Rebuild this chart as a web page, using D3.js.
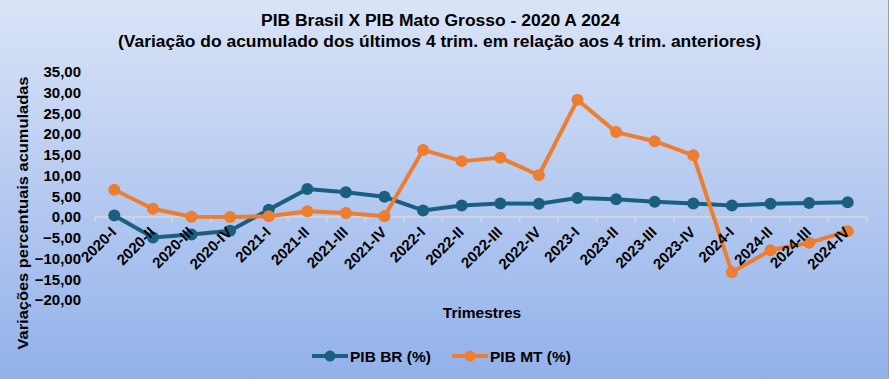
<!DOCTYPE html>
<html>
<head>
<meta charset="utf-8">
<script src="https://cdn.jsdelivr.net/npm/d3@7"></script>
<style>
html,body{margin:0;padding:0;}
body{width:889px;height:379px;overflow:hidden;}
text{font-family:"Liberation Sans",Arial,sans-serif;font-weight:bold;}
</style>
</head>
<body>
<svg id="chart" width="889" height="379"></svg>
<script>
const categories = ["2020-I","2020-II","2020-III","2020-IV","2021-I","2021-II","2021-III","2021-IV","2022-I","2022-II","2022-III","2022-IV","2023-I","2023-II","2023-III","2023-IV","2024-I","2024-II","2024-III","2024-IV"];
const pibBR = [0.4,-4.9,-4.2,-3.3,1.8,6.8,6.0,4.9,1.6,2.8,3.3,3.2,4.6,4.3,3.7,3.3,2.8,3.2,3.4,3.6];
const pibMT = [6.6,2.0,0.1,0.0,0.2,1.4,1.0,0.2,16.2,13.5,14.3,10.1,28.3,20.5,18.3,14.9,-13.3,-8.0,-6.2,-3.4];
const yTicks = [35,30,25,20,15,10,5,0,-5,-10,-15,-20];
const seriesNames = ["PIB BR (%)","PIB MT (%)"];
const seriesColors = ["#1b5f80","#ed7d31"];

const svg = d3.select("#chart");
const W = 889, H = 379;

const defs = svg.append("defs");
const grad = defs.append("linearGradient").attr("id","bg").attr("x1",0).attr("y1",0).attr("x2",0).attr("y2",1);
grad.append("stop").attr("offset","0%").attr("stop-color","#dae4f7");
grad.append("stop").attr("offset","100%").attr("stop-color","#92b1ea");
svg.append("rect").attr("width",W).attr("height",H).attr("fill","url(#bg)");
svg.append("line").attr("x1",888.5).attr("x2",888.5).attr("y1",0).attr("y2",H).attr("stroke","#a0a0a0").attr("stroke-width",1);

// Title
svg.append("text").attr("x",440.5).attr("y",26).attr("text-anchor","middle").attr("font-size",16).attr("fill","#000")
  .attr("textLength",359).attr("lengthAdjust","spacingAndGlyphs")
  .text("PIB Brasil X PIB Mato Grosso - 2020 A 2024");
svg.append("text").attr("x",439.5).attr("y",47).attr("text-anchor","middle").attr("font-size",16.5).attr("fill","#000")
  .attr("textLength",643).attr("lengthAdjust","spacingAndGlyphs")
  .text("(Variação do acumulado dos últimos 4 trim. em relação aos 4 trim. anteriores)");

const x = d3.scalePoint().domain(categories).range([95,867]).padding(0.5);
const xBand = d3.scaleBand().domain(categories).range([95,867]);
const y = d3.scaleLinear().domain([-20,35]).range([300,72]);

// Y axis labels
const yAxis = d3.axisLeft(y).tickValues(yTicks).tickSize(0).tickPadding(0)
  .tickFormat(d => d3.format(".2f")(d).replace(".",","));
const gy = svg.append("g").attr("transform","translate(81,0)").call(yAxis);
gy.select(".domain").remove();
gy.selectAll("text").attr("font-size",15).attr("fill","#000").attr("font-family","Liberation Sans, Arial, sans-serif").attr("font-weight","bold");

// Y title
svg.append("text").attr("transform","translate(28,213) rotate(-90)").attr("text-anchor","middle")
  .attr("font-size",15).attr("fill","#000").attr("textLength",273).attr("lengthAdjust","spacingAndGlyphs")
  .text("Variações percentuais acumuladas");

// X axis at zero
const y0 = y(0);
svg.append("line").attr("x1",95).attr("x2",867).attr("y1",y0).attr("y2",y0).attr("stroke","#d9d9d9").attr("stroke-width",1.5);
const bounds = categories.map(c => xBand(c)).concat([867]);
svg.append("g").selectAll("line").data(bounds).join("line")
  .attr("x1",d=>d).attr("x2",d=>d).attr("y1",y0).attr("y2",y0+5).attr("stroke","#d9d9d9").attr("stroke-width",1.5);

// Lines
const line = d3.line().x((d,i)=>x(categories[i])).y(d=>y(d));
[pibBR,pibMT].forEach((s,k)=>{
  svg.append("path").datum(s).attr("d",line).attr("fill","none").attr("stroke",seriesColors[k]).attr("stroke-width",4).attr("stroke-linejoin","round");
  svg.append("g").selectAll("circle").data(s).join("circle")
    .attr("cx",(d,i)=>x(categories[i])).attr("cy",d=>y(d)).attr("r",6).attr("fill",seriesColors[k]);
});

// X tick labels (drawn over the lines, as in the reference)
svg.append("g").selectAll("text").data(categories).join("text")
  .attr("transform", d => `translate(${x(d)+3},${y0+16}) rotate(-45)`)
  .attr("text-anchor","end").attr("font-size",15).attr("fill","#000").text(d=>d);

// X title
svg.append("text").attr("x",482).attr("y",318).attr("text-anchor","middle").attr("font-size",15.5).attr("fill","#000").text("Trimestres");

// Legend
const legX = [312,452];
seriesNames.forEach((n,k)=>{
  const g = svg.append("g").attr("transform",`translate(${legX[k]},356)`);
  g.append("line").attr("x1",0).attr("x2",36).attr("y1",0).attr("y2",0).attr("stroke",seriesColors[k]).attr("stroke-width",4);
  g.append("circle").attr("cx",18).attr("cy",0).attr("r",5.5).attr("fill",seriesColors[k]);
  g.append("text").attr("x",38).attr("y",5.5).attr("font-size",15.5).attr("fill","#000").text(n);
});
</script>
</body>
</html>
